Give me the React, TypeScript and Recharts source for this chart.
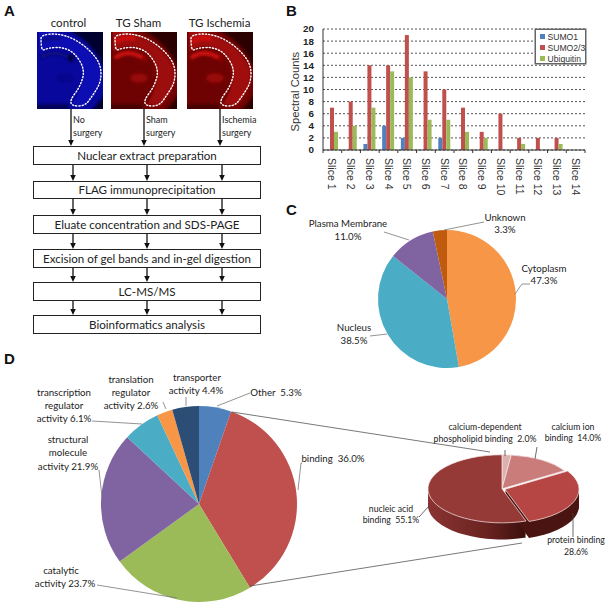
import React from "react";
import { BarChart, Bar, XAxis, YAxis, CartesianGrid, Legend, PieChart, Pie, Cell } from "recharts";

// panel B
const slices = ["Slice 1", "Slice 2", "Slice 3", "Slice 4", "Slice 5", "Slice 6", "Slice 7", "Slice 8", "Slice 9", "Slice 10", "Slice 11", "Slice 12", "Slice 13", "Slice 14"];
const sumo1 = [0, 0, 1, 4, 2, 0, 2, 0, 0, 0, 0, 0, 0, 0];
const sumo23 = [7, 8, 14, 14, 19, 13, 10, 7, 3, 6, 2, 2, 2, 0];
const ubiquitin = [3, 4, 7, 13, 12, 5, 5, 3, 2, 0, 1, 0, 1, 0];
const countTicks = [0, 2, 4, 6, 8, 10, 12, 14, 16, 18, 20];

// panel C
const locationNames = ["Cytoplasm", "Nucleus", "Plasma Membrane", "Unknown"];
const locationValues = [47.3, 38.5, 11.0, 3.3];
const locationColors = ["#F79646", "#4BACC6", "#8064A2", "#C05A0C"];

// panel D
const functionNames = ["Other", "binding", "catalytic activity", "structural molecule activity", "transcription regulator activity", "translation regulator activity", "transporter activity"];
const functionValues = [5.3, 36.0, 23.7, 21.9, 6.1, 2.6, 4.4];
const functionColors = ["#4F81BD", "#C0504D", "#9BBB59", "#8064A2", "#4BACC6", "#F79646", "#2C4D75"];

const bindingNames = ["calcium-dependent phospholipid binding", "calcium ion binding", "protein binding", "nucleic acid binding"];
const bindingValues = [2.0, 14.0, 28.6, 55.1];
const bindingColors = ["#DDB1AF", "#C97C7A", "#B54644", "#963A38"];

// panel A
const flowSteps = ["Nuclear extract preparation", "FLAG immunoprecipitation", "Eluate concentration and SDS-PAGE", "Excision of gel bands and in-gel digestion", "LC-MS/MS", "Bioinformatics analysis"];
const stepTops = [146, 181, 215, 249, 282, 315];
const stepHeights = [19, 18, 19, 19, 19, 19];

const barData = slices.map((name, i) => ({ name, sumo1: sumo1[i], sumo23: sumo23[i], ubiquitin: ubiquitin[i] }));
const locationData = locationNames.map((name, i) => ({ name, value: locationValues[i] }));
const functionData = functionNames.map((name, i) => ({ name, value: functionValues[i] }));
const bindingData = bindingNames.map((name, i) => ({ name, value: bindingValues[i] }));

const LABEL_FONT = "Lato, 'Open Sans', sans-serif";
const AXIS_FONT = "'Liberation Sans', Arial, sans-serif";
const BAND = 262 / 14;

const SliceTick = ({ x, y, payload, index }: any) => (
  <g>
    <line x1={x - BAND / 2} x2={x - BAND / 2} y1={y - 8} y2={y - 5} stroke="#333" />
    {index === 13 && <line x1={x + BAND / 2} x2={x + BAND / 2} y1={y - 8} y2={y - 5} stroke="#333" />}
    <text
      transform={`translate(${x - 4} ${y}) rotate(90)`}
      fontSize={10.5}
      fontFamily={AXIS_FONT}
      fill="#333"
    >
      {payload.value}
    </text>
  </g>
);

const legendRows = [
  { label: "SUMO1", color: "#4F81BD" },
  { label: "SUMO2/3", color: "#C0504D" },
  { label: "Ubiquitin", color: "#9BBB59" },
];

const BoxLegend = () => (
  <div style={{ border: "1px solid #666", boxShadow: "0 0 0 0.5px #666", background: "#fff", width: 51, height: 35, boxSizing: "border-box", padding: "1px 0 0 4px", fontFamily: AXIS_FONT, fontSize: 8.6, color: "#333" }}>
    {legendRows.map((r) => (
      <div key={r.label} style={{ display: "flex", alignItems: "center", height: 11, whiteSpace: "nowrap" }}>
        <span style={{ width: 5, height: 5, background: r.color, marginRight: 2.5, flex: "none" }} />
        {r.label}
      </div>
    ))}
  </div>
);

const outerDots: [number, number][] = [[4, 3], [20, 1.5], [36, 6], [53, 18], [64, 33], [64, 50], [56, 63], [48, 74], [35, 74], [33, 68], [43, 55], [48, 38], [38, 21], [25, 15], [11, 16], [5, 19], [4, 10]];

// smooth closed curve through the midpoints of the outline
const outlinePath = () => {
  const n = outerDots.length;
  const mid = (a: [number, number], b: [number, number]) => [(a[0] + b[0]) / 2, (a[1] + b[1]) / 2];
  const s = mid(outerDots[n - 1], outerDots[0]);
  let d = `M${s[0]} ${s[1]}`;
  outerDots.forEach((p, i) => {
    const m = mid(p, outerDots[(i + 1) % n]);
    d += ` Q${p[0]} ${p[1]} ${m[0]} ${m[1]}`;
  });
  return d + "Z";
};

const BrainImage = ({ x, y, id, base, corner, mid, bright, spot }: any) => (
  <svg style={{ position: "absolute", left: x, top: y }} width={66} height={77} viewBox="0 0 66 77">
    <defs>
      <filter id={id} x="-30%" y="-30%" width="160%" height="160%">
        <feGaussianBlur stdDeviation="1.8" />
      </filter>
      <clipPath id={id + "c"}>
        <rect width="66" height="77" />
      </clipPath>
    </defs>
    <rect width="66" height="77" fill={base} />
    <g clipPath={`url(#${id}c)`}>
      <g filter={`url(#${id})`}>
        <path d="M30 -6 L72 -6 L72 50 C66 28 52 6 30 -2Z" fill={corner} />
        <path d="M48 84 L72 84 L72 54 C66 66 58 76 48 84Z" fill={corner} />
        <path d="M2 -2 C24 -2 50 10 62 34 C66 46 62 60 50 74 L36 72 C46 56 50 38 40 24 C28 12 12 12 2 20Z" fill={mid} />
        <path d="M5 10 C10 5 16 5 24 7" fill="none" stroke={bright} strokeWidth="4" opacity="0.8" />
        <path d="M4 26 C12 20 22 20 32 26" fill="none" stroke={bright} strokeWidth="3.5" />
        <ellipse cx="28" cy="46" rx="9" ry="5" fill={bright} opacity="0.35" />
        <ellipse cx="34" cy="26" rx="3" ry="4" fill={spot} />
        <rect x="-4" y="72" width="36" height="8" fill={corner} opacity="0.6" />
      </g>
    </g>
    <path d={outlinePath()} fill="none" stroke="#fff" strokeWidth="1.4" strokeDasharray="1.2 2" strokeLinecap="round" />
  </svg>
);

const Lab = ({ x, y, children, size = 9.7, anchor = "middle" }: any) => (
  <text x={x} y={y} fontSize={size} textAnchor={anchor} fontFamily={LABEL_FONT} fill="#222" style={{ whiteSpace: "pre" }}>
    {children}
  </text>
);

const Arrow = ({ x, y1, y2 }: any) => (
  <g>
    <line x1={x} x2={x} y1={y1} y2={y2 - 4} stroke="#111" strokeWidth={1.3} />
    <path d={`M${x - 2.8} ${y2 - 6} L${x + 2.8} ${y2 - 6} L${x} ${y2} Z`} fill="#111" />
  </g>
);

const Leader = ({ d, color = "#777" }: any) => <path d={d} fill="none" stroke={color} strokeWidth={0.8} />;

const SQUASH = 0.46;
const TOP_R = 74;
const DEPTH_STEPS = [36, 33, 30, 27, 24, 21, 18, 15, 12, 9, 6, 3];

const Binding3D = () => (
  <div style={{ position: "absolute", left: 417, top: 452, width: 170, height: 200, transform: `scaleY(${SQUASH})`, transformOrigin: "top left" }}>
    <PieChart width={170} height={200} margin={{ top: 0, right: 0, bottom: 0, left: 0 }}>
      <defs>
        <linearGradient id="sideLeft" x1="0" y1="0" x2="1" y2="0">
          <stop offset="0%" stopColor="#8A3432" />
          <stop offset="60%" stopColor="#6A2320" />
          <stop offset="100%" stopColor="#3A0F0D" />
        </linearGradient>
      </defs>
      {DEPTH_STEPS.map((d) => (
        <Pie key={"n" + d} data={bindingData} dataKey="value" cx={85} cy={80 + d} outerRadius={TOP_R} startAngle={90} endAngle={-270} isAnimationActive={false} stroke="none">
          {bindingNames.map((n, i) => (
            <Cell key={n} fill={i === 3 ? "url(#sideLeft)" : "transparent"} stroke="none" />
          ))}
        </Pie>
      ))}
      {DEPTH_STEPS.map((d) => (
        <Pie key={"p" + d} data={bindingData} dataKey="value" cx={88} cy={81 + d} outerRadius={TOP_R} startAngle={90} endAngle={-270} isAnimationActive={false} stroke="none">
          {bindingNames.map((n, i) => (
            <Cell key={n} fill={i === 2 ? "#4A1512" : "transparent"} stroke="none" />
          ))}
        </Pie>
      ))}
      <Pie data={bindingData} dataKey="value" cx={85} cy={80} outerRadius={TOP_R} startAngle={90} endAngle={-270} isAnimationActive={false}>
        {bindingNames.map((n, i) => (
          <Cell key={n} fill={i === 2 ? "transparent" : bindingColors[i]} stroke={i === 2 ? "none" : "#F4E6E6"} strokeWidth={1} />
        ))}
      </Pie>
      <Pie data={bindingData} dataKey="value" cx={88} cy={81} outerRadius={TOP_R} startAngle={90} endAngle={-270} isAnimationActive={false}>
        {bindingNames.map((n, i) => (
          <Cell key={n} fill={i === 2 ? bindingColors[i] : "transparent"} stroke={i === 2 ? "#F4E6E6" : "none"} strokeWidth={1} />
        ))}
      </Pie>
    </PieChart>
  </div>
);

export default function App() {
  return (
    <div style={{ position: "absolute", left: 0, top: 0, width: 610, height: 606, background: "#fff", overflow: "hidden" }}>
      {/* A: brain sections */}
      <BrainImage x={37} y={32} id="bA" base="#08089C" corner="#02022E" mid="#1010B4" bright="#0A0A78" spot="#04043C" />
      <BrainImage x={111} y={32} id="bB" base="#6E0202" corner="#2C0000" mid="#9C0808" bright="#E01212" spot="#8A0606" />
      <BrainImage x={187} y={32} id="bC" base="#6E0202" corner="#2C0000" mid="#A00808" bright="#E41212" spot="#8A0606" />

      {/* A: flow boxes */}
      {flowSteps.map((s, i) => (
        <div
          key={s}
          style={{ position: "absolute", left: 33, top: stepTops[i], width: 228, height: stepHeights[i], boxSizing: "border-box", border: "1px solid #222", background: "#fff", textAlign: "center", fontFamily: LABEL_FONT, fontSize: 11.6, color: "#222", lineHeight: `${stepHeights[i] - 2}px`, whiteSpace: "nowrap" }}
        >
          {s}
        </div>
      ))}

      {/* B */}
      <div style={{ position: "absolute", left: 290, top: 0 }}>
        <BarChart width={320} height={200} data={barData} margin={{ top: 29, right: 25, bottom: 0, left: 0 }} barSize={4} barGap={0}>
          <CartesianGrid vertical={false} stroke="#555" strokeDasharray="2 2" />
          <XAxis dataKey="name" interval={0} height={50} axisLine={{ stroke: "#333" }} tickLine={false} tick={<SliceTick />} />
          <YAxis
            width={33}
            domain={[0, 20]}
            ticks={countTicks}
            interval={0}
            axisLine={{ stroke: "#333" }}
            tickLine={false}
            tick={{ fontSize: 9.8, fontFamily: AXIS_FONT, fill: "#222", fontWeight: 700 }}
            tickMargin={3}
            label={{ value: "Spectral Counts", angle: -90, position: "insideLeft", dx: 0, dy: 42, style: { fontSize: 11.2, fontFamily: AXIS_FONT, fill: "#333" } }}
          />
          <Legend layout="vertical" align="center" verticalAlign="middle" content={<BoxLegend />} wrapperStyle={{ left: 245, top: 29, width: 52, height: 35 }} />
          <Bar dataKey="sumo1" fill="#4F81BD" isAnimationActive={false} />
          <Bar dataKey="sumo23" fill="#C0504D" isAnimationActive={false} />
          <Bar dataKey="ubiquitin" fill="#9BBB59" isAnimationActive={false} />
        </BarChart>
      </div>

      {/* C */}
      <div style={{ position: "absolute", left: 347, top: 200 }}>
        <PieChart width={200} height={200} margin={{ top: 0, right: 0, bottom: 0, left: 0 }}>
          <Pie data={locationData} dataKey="value" cx={100} cy={99} outerRadius={69} startAngle={90} endAngle={-270} stroke="none" isAnimationActive={false}>
            {locationNames.map((n, i) => (
              <Cell key={n} fill={locationColors[i]} stroke="none" />
            ))}
          </Pie>
        </PieChart>
      </div>

      {/* D */}
      <div style={{ position: "absolute", left: 89, top: 394 }}>
        <PieChart width={220} height={220} margin={{ top: 0, right: 0, bottom: 0, left: 0 }}>
          <Pie data={functionData} dataKey="value" cx={110} cy={110} outerRadius={98} startAngle={90} endAngle={-270} stroke="none" isAnimationActive={false}>
            {functionNames.map((n, i) => (
              <Cell key={n} fill={functionColors[i]} stroke="none" />
            ))}
          </Pie>
        </PieChart>
      </div>
      <Binding3D />

      {/* text, arrows and leader lines */}
      <svg style={{ position: "absolute", left: 0, top: 0, pointerEvents: "none" }} width={610} height={606}>
        <text x={4} y={16} fontSize={15} fontWeight={700} fontFamily={AXIS_FONT} fill="#111">A</text>
        <text x={286} y={16} fontSize={15} fontWeight={700} fontFamily={AXIS_FONT} fill="#111">B</text>
        <text x={286} y={215} fontSize={15} fontWeight={700} fontFamily={AXIS_FONT} fill="#111">C</text>
        <text x={4} y={364} fontSize={15} fontWeight={700} fontFamily={AXIS_FONT} fill="#111">D</text>

        <Lab x={68.5} y={27} size={11.5}>control</Lab>
        <Lab x={138.5} y={27} size={11.5}>TG Sham</Lab>
        <Lab x={219.5} y={27} size={11.5}>TG Ischemia</Lab>

        {[71, 144, 220].map((x) => <Arrow key={x} x={x} y1={109} y2={146} />)}
        {[165, 199, 234, 268, 301].map((y, i) => (
          <g key={y}>
            {[73, 147, 222].map((x) => <Arrow key={x} x={x} y1={y} y2={stepTops[i + 1]} />)}
          </g>
        ))}
        <Lab x={73} y={123} anchor="start" size={9}>No</Lab>
        <Lab x={73} y={136} anchor="start" size={9}>surgery</Lab>
        <Lab x={146} y={123} anchor="start" size={9}>Sham</Lab>
        <Lab x={146} y={136} anchor="start" size={9}>surgery</Lab>
        <Lab x={222} y={123} anchor="start" size={9}>Ischemia</Lab>
        <Lab x={222} y={136} anchor="start" size={9}>surgery</Lab>

        {/* C labels */}
        <Leader d="M384 232 L409 240" />
        <Leader d="M484 222 L444 230" />
        <Leader d="M530 284 L522 284 L515 294" />
        <Leader d="M370 336 L387 334" />
        <Lab x={348} y={227}>Plasma Membrane</Lab>
        <Lab x={348} y={240}>11.0%</Lab>
        <Lab x={505} y={221}>Unknown</Lab>
        <Lab x={505} y={233}>3.3%</Lab>
        <Lab x={544} y={272}>Cytoplasm</Lab>
        <Lab x={544} y={284}>47.3%</Lab>
        <Lab x={354} y={331}>Nucleus</Lab>
        <Lab x={354} y={344}>38.5%</Lab>

        {/* D labels */}
        <Leader d="M250 393 L217 406" />
        <Leader d="M302 463 L301 463 L298 490" />
        <Leader d="M97 585 L177 598" />
        <Leader d="M99 470 L102 497" />
        <Leader d="M92 421 L142 424" />
        <Leader d="M163 402 L166 409" />
        <Leader d="M186 397 L186 406" />
        <Leader d="M232 412 L490 452" color="#555" />
        <Leader d="M250 586 L522 543" color="#555" />
        <Leader d="M505 450 L505 456" color="#444" />
        <Leader d="M537 447 L535 459" color="#444" />
        <Leader d="M419 517 L429 506" color="#444" />
        <Leader d="M573 513 L573 537" color="#444" />

        <Lab x={131} y={383}>translation</Lab>
        <Lab x={131} y={396}>regulator</Lab>
        <Lab x={131} y={409}>activity 2.6%</Lab>
        <Lab x={197} y={381}>transporter</Lab>
        <Lab x={196} y={394}>activity 4.4%</Lab>
        <Lab x={64} y={396}>transcription</Lab>
        <Lab x={64} y={409}>regulator</Lab>
        <Lab x={64} y={422}>activity 6.1%</Lab>
        <Lab x={276} y={396}>Other  5.3%</Lab>
        <Lab x={68} y={443}>structural</Lab>
        <Lab x={68} y={456}>molecule</Lab>
        <Lab x={68} y={470}>activity 21.9%</Lab>
        <Lab x={333} y={462}>binding  36.0%</Lab>
        <Lab x={61} y={574}>catalytic</Lab>
        <Lab x={65} y={587}>activity 23.7%</Lab>
        <Lab x={485} y={430} size={8.7}>calcium-dependent</Lab>
        <Lab x={485} y={441.5} size={8.7}>phospholipid binding  2.0%</Lab>
        <Lab x={573} y={430} size={8.7}>calcium ion</Lab>
        <Lab x={573} y={441} size={8.7}>binding  14.0%</Lab>
        <Lab x={391} y={512} size={8.7}>nucleic acid</Lab>
        <Lab x={391} y={523} size={8.7}>binding  55.1%</Lab>
        <Lab x={576} y={543} size={8.7}>protein binding</Lab>
        <Lab x={576} y={554.5} size={8.7}>28.6%</Lab>
      </svg>
    </div>
  );
}
